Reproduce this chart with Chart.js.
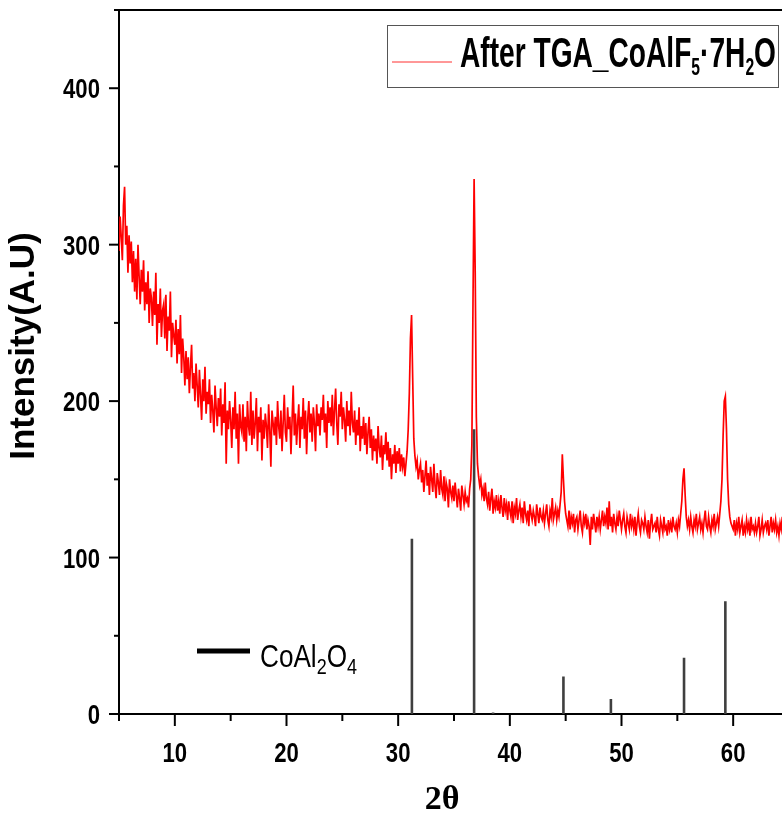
<!DOCTYPE html>
<html>
<head>
<meta charset="utf-8">
<script src="https://cdn.jsdelivr.net/npm/chart.js@4.4.1/dist/chart.umd.min.js"></script>
<style>
  html, body { margin: 0; padding: 0; background: #fff; overflow: hidden; width: 782px; height: 834px; }
  #wrap { position: absolute; left: 0; top: 0; width: 800px; height: 834px; }
</style>
</head>
<body>
<div id="wrap"><canvas id="c" width="800" height="834"></canvas></div>
<script>
// ---- Data ----
// Measured XRD pattern (2θ from 5.0 to 65.0, instrument step 0.1°)
const scanStart = 5.0;
const scanStep = 0.1;
const intensity = [
  296,318,305,290,325,337,300,312,282,306,   // 5
  288,302,276,296,270,291,265,300,280,262,   // 6
  284,270,290,258,276,262,283,250,272,266,   // 7
  248,270,255,282,236,262,250,272,241,258,   // 8
  262,240,268,232,254,245,270,228,250,242,   // 9
  236,252,224,246,230,255,218,240,228,210,   // 10
  232,214,228,205,222,236,208,218,200,224,   // 11
  210,196,220,204,188,214,200,222,192,206,   // 12
  198,214,186,204,194,180,210,196,184,202,   // 13
  190,208,178,198,186,212,160,194,182,200,   // 14
  188,170,196,182,206,176,192,160,198,184,   // 15
  180,198,174,190,168,200,184,178,206,172,   // 16
  194,176,186,202,168,190,180,196,162,188,   // 17
  176,192,184,170,198,182,158,194,186,178,   // 18
  190,172,200,184,176,194,168,186,204,180,   // 19
  174,196,182,190,166,188,210,178,192,172,   // 20
  186,198,170,190,182,202,176,194,166,188,   // 21
  200,180,192,174,196,186,168,198,184,192,   // 22
  178,196,188,204,180,192,170,200,186,196,   // 23
  184,204,178,194,208,186,172,198,190,206,   // 24
  182,196,188,174,200,184,194,178,206,186,   // 25
  180,194,172,188,178,196,168,184,176,190,   // 26
  172,186,166,180,190,170,182,162,178,168,   // 27
  176,160,184,170,164,178,156,172,166,180,   // 28
  162,174,158,170,150,166,160,172,154,168,   // 29
  160,170,155,166,158,164,152,160,168,182,   // 30
  205,240,255,215,176,165,158,162,150,156,   // 31
  160,148,156,142,152,162,146,154,140,158,   // 32
  150,142,160,146,138,154,148,140,156,144,   // 33
  140,152,136,148,144,132,150,142,138,146,   // 34
  136,148,140,132,144,138,130,146,140,134,   // 35
  142,136,138,132,144,150,172,262,342,282,   // 36
  190,160,152,146,150,140,144,136,148,138,   // 37
  134,142,130,138,144,128,136,132,140,130,   // 38
  136,128,140,132,126,138,130,134,124,136,   // 39
  130,126,136,122,132,128,138,124,130,134,   // 40
  126,132,122,136,128,124,130,120,134,128,   // 41
  124,130,126,120,134,128,122,132,126,124,   // 42
  130,122,128,134,124,120,130,126,138,124,   // 43
  128,132,124,130,126,134,142,166,150,136,   // 44
  128,124,120,130,118,126,122,128,116,124,   // 45
  126,118,124,130,120,116,126,122,128,118,   // 46
  124,120,108,126,118,128,122,116,126,120,   // 47
  126,118,124,130,120,126,122,132,118,136,   // 48
  120,126,116,128,122,118,126,120,130,124,   // 49
  118,124,128,120,116,126,122,118,128,120,   // 50
  124,118,126,114,122,128,120,116,124,122,   // 51
  118,126,120,116,124,112,122,128,118,120,   // 52
  122,116,126,118,114,124,120,116,126,118,   // 53
  120,114,124,118,122,116,126,120,118,122,   // 54
  116,124,120,128,136,150,157,140,126,120,   // 55
  124,118,126,120,116,124,120,128,118,122,   // 56
  126,118,122,116,124,130,120,118,126,120,   // 57
  116,124,120,128,118,122,126,120,128,136,   // 58
  150,178,200,203,182,150,134,126,122,120,   // 59
  118,124,114,122,118,126,116,120,124,114,   // 60
  120,116,124,118,122,114,126,118,120,116,   // 61
  122,116,120,126,114,118,124,116,120,122,   // 62
  118,124,114,120,126,116,122,118,124,116,   // 63
  120,114,122,118,126,116,120,124,114,120,   // 64
  118                                        // 65
];

// Reference pattern CoAl2O4 (stick positions and heights)
const refPositions = [31.23, 36.8, 38.5, 44.8, 49.05, 55.6, 59.3];
const refHeights   = [112, 182, 1, 24, 9.6, 36, 72];

// Axis ranges and tick values
const xRange = [5, 65];
const yRange = [0, 450];
const xMajorTicks = [10, 20, 30, 40, 50, 60];
const xMinorTicks = [5, 15, 25, 35, 45, 55, 65];
const yMajorTicks = [0, 100, 200, 300, 400];
const yMinorTicks = [50, 150, 250, 350, 450];

// Texts
const xTitle = '2θ';
const yTitle = 'Intensity(A.U)';
const sampleLegend = [['After TGA_CoAlF', 0], ['5', 1], ['·7H', 0], ['2', 1], ['O', 0]];
const refLegend = [['CoAl', 0], ['2', 1], ['O', 0], ['4', 1]];

// ---- Build datasets ----
const measuredPoints = intensity.map((v, i) => ({ x: +(scanStart + i * scanStep).toFixed(2), y: v }));
const stickPoints = [];
refPositions.forEach((p, i) => {
  stickPoints.push({ x: p, y: 0 }, { x: p, y: refHeights[i] }, { x: p, y: null });
});

const SANS = '"Liberation Sans", Arial, Helvetica, sans-serif';

// draw text horizontally condensed (narrow face look)
function narrowText(ctx, text, x, y, size, weight, sx, align) {
  ctx.save();
  ctx.font = weight + ' ' + size + 'px ' + SANS;
  const w = ctx.measureText(text).width * sx;
  let left = x;
  if (align === 'center') left = x - w / 2;
  else if (align === 'right') left = x - w;
  ctx.translate(left, y);
  ctx.scale(sx, 1);
  ctx.textAlign = 'left';
  ctx.fillText(text, 0, 0);
  ctx.restore();
  return w;
}

function richWidth(ctx, parts, size, subSize, weight) {
  let w = 0;
  parts.forEach(([t, sub]) => {
    ctx.font = weight + ' ' + (sub ? subSize : size) + 'px ' + SANS;
    w += ctx.measureText(t).width;
  });
  return w;
}

function drawRich(ctx, x, baseline, parts, size, subSize, subDrop, weight, sx) {
  let cx = x;
  parts.forEach(([t, sub]) => {
    cx += narrowText(ctx, t, cx, baseline + (sub ? subDrop : 0), sub ? subSize : size, weight, sx, 'left');
  });
  return cx;
}

const overlay = {
  id: 'overlay',
  afterDraw(chart) {
    const ctx = chart.ctx, xs = chart.scales.x, ys = chart.scales.y, ca = chart.chartArea;
    ctx.save();
    ctx.strokeStyle = '#000';
    ctx.lineWidth = 2;
    const seg = (x1, y1, x2, y2) => { ctx.beginPath(); ctx.moveTo(x1, y1); ctx.lineTo(x2, y2); ctx.stroke(); };
    // frame top / right
    seg(ca.left - 1, ca.top, ca.right + 1, ca.top);
    seg(ca.right, ca.top, ca.right, ca.bottom);
    // ticks (outward)
    xMajorTicks.forEach(v => { const p = xs.getPixelForValue(v); seg(p, ca.bottom, p, ca.bottom + 12); });
    xMinorTicks.forEach(v => { const p = xs.getPixelForValue(v); seg(p, ca.bottom, p, ca.bottom + 7); });
    yMajorTicks.forEach(v => { const p = ys.getPixelForValue(v); seg(ca.left - 10, p, ca.left, p); });
    yMinorTicks.forEach(v => { const p = ys.getPixelForValue(v); seg(ca.left - 5, p, ca.left, p); });

    // tick labels
    ctx.fillStyle = '#000';
    ctx.textBaseline = 'alphabetic';
    xs.ticks.forEach(t => {
      narrowText(ctx, String(t.value), xs.getPixelForValue(t.value), ca.bottom + 48, 27, 'bold', 0.82, 'center');
    });
    ys.ticks.forEach(t => {
      narrowText(ctx, String(t.value), ca.left - 19, ys.getPixelForValue(t.value) + 10, 27, 'bold', 0.82, 'right');
    });

    // axis titles
    ctx.textAlign = 'center';
    ctx.textBaseline = 'middle';
    ctx.font = 'bold 34px "Liberation Serif", "Times New Roman", serif';
    ctx.fillText(xTitle, 442, 800);
    ctx.save();
    ctx.translate(24, 346);
    ctx.rotate(-Math.PI / 2);
    ctx.font = 'bold 35px ' + SANS;
    ctx.fillText(yTitle, 0, 0);
    ctx.restore();

    // legend box for measured pattern
    ctx.textAlign = 'left';
    ctx.textBaseline = 'alphabetic';
    ctx.lineWidth = 1;
    ctx.strokeStyle = '#555';
    ctx.strokeRect(387.5, 25.5, 391, 62);
    ctx.strokeStyle = '#ff3030';
    ctx.lineWidth = 1;
    seg(392, 62, 452, 62);
    const lw = richWidth(ctx, sampleLegend, 43, 24, 'bold');
    drawRich(ctx, 460, 67, sampleLegend, 43, 24, 8, 'bold', 316 / lw);

    // legend for reference sticks
    ctx.strokeStyle = '#000';
    ctx.lineWidth = 5;
    seg(197, 651, 250, 651);
    const rw = richWidth(ctx, refLegend, 32, 22, 'normal');
    drawRich(ctx, 260, 667, refLegend, 32, 22, 7, 'normal', 97 / rw);
    ctx.restore();
  }
};

new Chart(document.getElementById('c'), {
  type: 'line',
  data: {
    datasets: [
      {
        label: 'CoAl2O4',
        data: stickPoints,
        borderColor: '#3f3f3f',
        borderWidth: 2.6,
        pointRadius: 0,
        spanGaps: false,
        tension: 0
      },
      {
        label: 'After TGA_CoAlF5·7H2O',
        data: measuredPoints,
        borderColor: '#ff0000',
        borderWidth: 1.7,
        pointRadius: 0,
        tension: 0
      }
    ]
  },
  options: {
    responsive: false,
    devicePixelRatio: 1,
    animation: false,
    events: [],
    layout: { padding: { left: 0, top: 10, right: 11, bottom: 0 } },
    plugins: { legend: { display: false }, tooltip: { enabled: false } },
    scales: {
      x: {
        type: 'linear',
        min: xRange[0], max: xRange[1],
        afterFit(s) { s.height = 120; s.paddingLeft = 0; s.paddingRight = 0; s.paddingTop = 0; s.paddingBottom = 0; },
        afterBuildTicks(s) { s.ticks = xMajorTicks.map(v => ({ value: v })); },
        grid: { display: false, drawTicks: false },
        border: { display: true, color: '#000', width: 2 },
        ticks: { display: false }
      },
      y: {
        type: 'linear',
        min: yRange[0], max: yRange[1],
        afterFit(s) { s.width = 119; s.paddingLeft = 0; s.paddingRight = 0; s.paddingTop = 0; s.paddingBottom = 0; },
        afterBuildTicks(s) { s.ticks = yMajorTicks.map(v => ({ value: v })); },
        grid: { display: false, drawTicks: false },
        border: { display: true, color: '#000', width: 2 },
        ticks: { display: false }
      }
    }
  },
  plugins: [overlay]
});
</script>
</body>
</html>
